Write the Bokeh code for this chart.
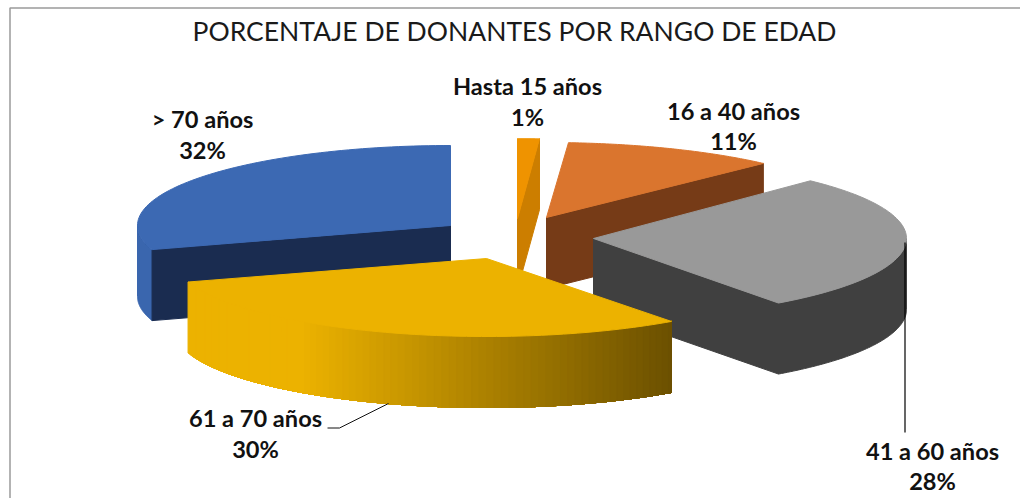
import numpy as np
from bokeh.plotting import figure
from bokeh.models import Range1d
from bokeh.core.properties import value
from bokeh.embed import file_html
from bokeh.resources import INLINE

title = "PORCENTAJE DE DONANTES POR RANGO DE EDAD"
categories = ["Hasta 15 años", "16 a 40 años", "41 a 60 años", "61 a 70 años", "> 70 años"]
percent = [1, 11, 28, 30, 32]

# styling / layout, kept apart from the data
top_colors = ["#EF9300", "#DA752E", "#999999", "#ECB200", "#3C69B3"]
cut_colors = ["#CC7E00", "#763B17", "#404040", "#6B5000", "#1A2C50"]
rim_colors = ["#CC7E00", "#763B17", "#404040", None, "#3A66AE"]
apexes = [(517, 218), (546, 217), (593, 238), (486, 258), (450, 225)]
label_pos = [(527, 85, 116), (733, 110, 140), (932, 450, 480), (255, 417, 448), (202, 118, 149)]
edge_nudge = [0, 0.5, 1.5, 2.6, 5.4, 0]   # the 3-D view shifts the slice edges slightly
RX, DEPTH = 313, 71
ry_slice = [80, 75, 80, 78, 80]
draw_order = [4, 0, 1, 2, 3]

p = figure(width=1020, height=498, x_range=Range1d(0, 1020), y_range=Range1d(498, 0),
           toolbar_location=None, output_backend="svg", min_border=0,
           background_fill_color="white", border_fill_color="white")
p.axis.visible = False
p.grid.visible = False
p.outline_line_color = None

# frame of the original picture
p.line([1020, 9.5, 9.5], [7.5, 7.5, 498], line_color="#9A9A9A", line_width=1.5)

cum = np.concatenate([[0], np.cumsum(percent)]) / sum(percent) * 360 + np.array(edge_nudge)


def rim(i, a0, a1, n=80):
    t = np.radians(np.linspace(a0, a1, n))
    return apexes[i][0] + RX * np.sin(t), apexes[i][1] - ry_slice[i] * np.cos(t)


def shade(x):
    t = np.clip((x - 300) / (671 - 300), 0, 1)
    a, b = np.array([0xEC, 0xB2, 0x00]), np.array([0x6B, 0x50, 0x00])
    c = (a + (b - a) * t).astype(int)
    return "#%02X%02X%02X" % tuple(c)


def poly(xs, ys, color):
    p.patch(list(xs), list(ys), fill_color=color, line_color=color, line_width=1)


for i in draw_order:
    apex = apexes[i]
    a0, a1 = cum[i], cum[i + 1]
    # outer wall, only the part that faces the viewer
    lo, hi = max(a0, 90), min(a1, 270)
    if hi > lo:
        if rim_colors[i] is None:
            # left-to-right strips, each overlapping the next, so that no seams show
            x, y = rim(i, hi, lo, 160)
            for k in range(0, len(x) - 1, 2):
                xk, yk = x[k:], y[k:]
                poly(np.r_[xk, xk[::-1]], np.r_[yk, yk[::-1] + DEPTH], shade(x[k]))
        else:
            x, y = rim(i, lo, hi)
            poly(np.r_[x, x[::-1]], np.r_[y, y[::-1] + DEPTH], rim_colors[i])
    # cut faces
    for ang, vis in ((a0, np.sin(np.radians(a0)) < -1e-6), (a1, np.sin(np.radians(a1)) > 1e-6)):
        if vis:
            x, y = rim(i, ang, ang, 1)
            poly([apex[0], x[0], x[0], apex[0]],
                 [apex[1], y[0], y[0] + DEPTH, apex[1] + DEPTH], cut_colors[i])
    # top face
    x, y = rim(i, a0, a1)
    poly(np.r_[apex[0], x], np.r_[apex[1], y], top_colors[i])

# leader lines
p.line([904.5, 904.5], [242, 432], line_color="#000000", line_width=1.2)
p.line([388, 339, 327], [403, 427.5, 427.5], line_color="#111111", line_width=1)

# texts
p.text([514], [30], text=[title], text_font=value("Lato"), text_font_size="26.5px",
       text_align="center", text_baseline="middle", text_color="#1A1A1A")
for i in range(len(categories)):
    lx, y1, y2 = label_pos[i]
    for yy, s in ((y1, categories[i]), (y2, f"{percent[i]}%")):
        p.text([lx], [yy], text=[s], text_font=value("Lato"), text_font_size="23.6px",
               text_font_style="bold", text_align="center", text_baseline="middle",
               text_color="#111111")

open("out.html", "w").write(file_html(p, INLINE))
